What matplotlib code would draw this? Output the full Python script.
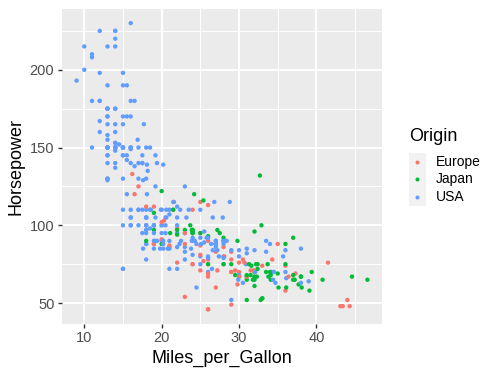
import matplotlib
matplotlib.use("Agg")
import matplotlib.pyplot as plt
from matplotlib.lines import Line2D
from matplotlib.patches import Rectangle
from matplotlib.ticker import MultipleLocator

plt.rcParams['font.family'] = ['Liberation Sans', 'DejaVu Sans']

# cars data, one block per model year (rows with a missing value dropped)
mpg = [
    # 70
    18, 15, 18, 16, 17, 15, 14, 14, 14, 15, 15, 14, 15, 14, 24, 22, 18, 21, 27, 26, 25, 24, 25, 26, 21, 10, 10, 11, 9,
    # 71
    27, 28, 25, 19, 16, 17, 19, 18, 14, 14, 14, 14, 12, 13, 13, 18, 22, 19, 18, 23, 28, 30, 30, 31, 35, 27, 26,
    # 72
    24, 25, 23, 20, 21, 13, 14, 15, 14, 17, 11, 13, 12, 13, 19, 15, 13, 13, 14, 18, 22, 21, 26, 22, 28, 23, 28, 27,
    # 73
    13, 14, 13, 14, 15, 12, 13, 13, 14, 13, 12, 13, 18, 16, 18, 18, 23, 26, 11, 12, 13, 12, 18, 20, 21, 22, 18, 19,
    21, 26, 15, 16, 29, 24, 20, 19, 15, 24, 20, 11,
    # 74
    20, 19, 15, 31, 26, 32, 25, 16, 16, 18, 16, 13, 14, 14, 14, 29, 26, 26, 31, 32, 28, 24, 26, 24, 26, 31,
    # 75
    19, 18, 15, 15, 16, 15, 16, 14, 17, 16, 15, 18, 21, 20, 13, 29, 23, 20, 23, 24, 25, 24, 18, 29, 19, 23, 23, 22,
    25, 33,
    # 76
    28, 25, 25, 26, 27, 17.5, 16, 15.5, 14.5, 22, 22, 24, 22.5, 29, 24.5, 29, 33, 20, 18, 18.5, 17.5, 29.5, 32, 28,
    26.5, 20, 13, 19, 19, 16.5, 16.5, 13, 13, 13,
    # 77
    31.5, 30, 36, 25.5, 33.5, 17.5, 17, 15.5, 15, 17.5, 20.5, 19, 18.5, 16, 15.5, 15.5, 16, 29, 24.5, 26, 25.5, 30.5,
    33.5, 30, 30.5, 22, 21.5, 21.5,
    # 78
    43.1, 36.1, 32.8, 39.4, 36.1, 19.9, 19.4, 20.2, 19.2, 20.5, 20.2, 25.1, 20.5, 19.4, 20.6, 20.8, 18.6, 18.1, 19.2,
    17.7, 18.1, 17.5, 30, 27.5, 27.2, 30.9, 21.1, 23.2, 23.8, 23.9, 20.3, 17, 21.6, 16.2, 31.5, 29.5, 21.5, 19.8,
    22.3, 20.2, 20.6,
    # 79
    17, 17.6, 16.5, 18.2, 16.9, 15.5, 19.2, 18.5, 31.9, 34.1, 35.7, 27.4, 25.4, 23, 27.2, 23.9, 34.2, 34.5, 31.8,
    37.3, 28.4, 28.8, 26.8, 33.5,
    # 80
    41.5, 38.1, 32.1, 37.2, 28, 26.4, 24.3, 19.1, 34.3, 29.8, 31.3, 37, 32.2, 46.6, 27.9, 40.8, 44.3, 43.4, 36.4, 30,
    44.6, 33.8, 29.8, 32.7, 23.7, 35, 32.4,
    # 81
    27.2, 26.6, 25.8, 23.5, 30, 39.1, 39, 35.1, 32.3, 37, 37.7, 34.1, 34.7, 34.4, 29.9, 33, 33.7, 32.4, 32.9, 31.6,
    28.1, 30.7, 25.4, 24.2, 22.4, 26.6, 20.2, 17.6,
    # 82
    28, 27, 34, 31, 29, 27, 24, 36, 37, 31, 38, 36, 36, 36, 34, 38, 32, 38, 25, 38, 26, 22, 32, 36, 27, 27, 44, 32,
    28, 31,
]

horsepower = [
    # 70
    130, 165, 150, 150, 140, 198, 220, 215, 225, 190, 170, 160, 150, 225, 95, 95, 97, 85, 88, 46, 87, 90, 95, 113, 90,
    215, 200, 210, 193,
    # 71
    88, 90, 95, 100, 105, 100, 88, 100, 165, 175, 153, 150, 180, 170, 175, 110, 72, 100, 88, 86, 90, 70, 76, 65, 69,
    60, 70,
    # 72
    95, 80, 54, 90, 86, 165, 175, 150, 153, 150, 208, 155, 160, 190, 97, 150, 130, 140, 150, 112, 76, 87, 69, 86, 92,
    97, 80, 88,
    # 73
    175, 150, 145, 137, 150, 198, 150, 158, 150, 215, 225, 175, 105, 100, 100, 88, 95, 46, 150, 167, 170, 180, 100,
    88, 72, 94, 90, 85, 107, 90, 145, 230, 49, 75, 91, 112, 150, 110, 122, 180,
    # 74
    95, 100, 100, 67, 80, 65, 75, 100, 110, 105, 140, 150, 150, 140, 150, 83, 67, 78, 52, 61, 75, 75, 75, 97, 93, 67,
    # 75
    95, 105, 72, 72, 170, 145, 150, 148, 110, 105, 110, 95, 110, 110, 129, 75, 83, 100, 78, 96, 71, 97, 97, 70, 90,
    95, 88, 98, 115, 53,
    # 76
    86, 81, 92, 79, 83, 140, 150, 120, 152, 100, 105, 81, 90, 52, 60, 70, 53, 100, 78, 110, 95, 71, 70, 75, 72, 102,
    150, 88, 108, 120, 180, 145, 130, 150,
    # 77
    68, 80, 58, 96, 70, 145, 110, 145, 130, 110, 105, 100, 98, 180, 170, 190, 149, 78, 88, 75, 89, 63, 83, 67, 78,
    97, 110, 110,
    # 78
    48, 66, 52, 70, 60, 110, 140, 139, 105, 95, 85, 88, 100, 90, 105, 85, 110, 120, 145, 165, 139, 140, 68, 95, 97,
    75, 95, 105, 85, 97, 103, 125, 115, 133, 71, 68, 115, 85, 88, 90, 110,
    # 79
    130, 129, 138, 135, 155, 142, 125, 150, 71, 65, 80, 80, 77, 125, 71, 90, 70, 70, 65, 69, 90, 115, 115, 90,
    # 80
    76, 60, 70, 65, 90, 88, 90, 90, 78, 90, 75, 92, 75, 65, 105, 65, 48, 48, 67, 67, 67, 67, 62, 132, 100, 88, 72,
    # 81
    84, 84, 92, 110, 84, 58, 64, 60, 67, 65, 62, 68, 63, 65, 65, 74, 75, 75, 100, 74, 80, 76, 116, 120, 110, 105,
    88, 85,
    # 82
    88, 88, 88, 85, 84, 90, 92, 74, 68, 68, 63, 70, 88, 75, 70, 67, 67, 67, 110, 85, 92, 112, 96, 84, 90, 86, 52,
    84, 79, 82,
]

# E = Europe, J = Japan, U = USA, same order as above
origin_codes = (
    "UUUUUUUUUUUUUUJUUUJEEEEEUUUUU"                      # 70
    + "JUJ" + "U" * 17 + "EEEJJEU"                       # 71
    + "JUE" + "U" * 11 + "J" + "UUUU" + "EEEE" + "UJJUJ"  # 72
    + "U" * 17 + "EUUUUUJUJJUUEUUEEEEUEJU"               # 73
    + "UUUJUJ" + "U" * 9 + "EEEJJUEEJJE"                 # 74
    + "U" * 15 + "JUUUJEJUEUEEEEJ"                       # 75
    + "EEUUE" + "U" * 10 + "EJUUUUEJJUEUEJEUUUU"         # 76
    + "JUEUJ" + "U" * 12 + "EUJUUUJEJEJ"                 # 77
    + "EUJJJ" + "U" * 18 + "JJUJUUJEEEEEJUUUUU"          # 78
    + "U" * 8 + "EJUUEUEUUUJEUUUU"                       # 79
    + "EJUJUUUUEJJJJJUJEEEEJJEJJEJ"                      # 80
    + "UUUUUJUJJJJJUUUEJJJJEEJJUUUU"                     # 81
    + "U" * 7 + "EJJUUJJJJJJUUUUJUUUEUUU"                # 82
)
code_names = {"E": "Europe", "J": "Japan", "U": "USA"}
origin = [code_names[c] for c in origin_codes]

categories = ["Europe", "Japan", "USA"]
palette = {"Europe": "#F8766D", "Japan": "#00BA38", "USA": "#619CFF"}

assert len(mpg) == len(horsepower) == len(origin)

W, H = 500, 375
fig = plt.figure(figsize=(5, 3.75), dpi=100)
ax = fig.add_axes([62 / W, 1 - 323.6 / H, (382 - 62) / W, (323.6 - 8.8) / H])
ax.set_facecolor("#EBEBEB")
for s in ax.spines.values():
    s.set_visible(False)

ax.scatter(mpg, horsepower, c=[palette[o] for o in origin], s=10, linewidths=0, zorder=3)

xmin, xmax = min(mpg), max(mpg)
ymin, ymax = min(horsepower), max(horsepower)
ax.set_xlim(xmin - 0.05 * (xmax - xmin), xmax + 0.05 * (xmax - xmin))
ax.set_ylim(ymin - 0.05 * (ymax - ymin), ymax + 0.05 * (ymax - ymin))

ax.xaxis.set_major_locator(MultipleLocator(10))
ax.xaxis.set_minor_locator(MultipleLocator(5))
ax.yaxis.set_major_locator(MultipleLocator(50))
ax.yaxis.set_minor_locator(MultipleLocator(25))
ax.grid(True, which="major", color="white", linewidth=1.4, zorder=1)
ax.grid(True, which="minor", color="white", linewidth=0.7, zorder=1)
ax.set_axisbelow(True)

ax.tick_params(which="major", length=3, width=1.0, color="#333333", labelcolor="#4D4D4D",
               labelsize=10.5, pad=2.5)
ax.tick_params(which="minor", length=0)

ax.set_xlabel("Miles_per_Gallon", fontsize=13, labelpad=3)
ax.set_ylabel("Horsepower", fontsize=13, labelpad=4)

# legend, drawn like ggplot's guide
fig.text(409 / W, 1 - 137 / H, "Origin", fontsize=13, va="center", ha="left")
key_top = 153
key_size = 17.5
for i, cat in enumerate(categories):
    y0 = key_top + i * key_size
    fig.add_artist(Rectangle((408.5 / W, 1 - (y0 + key_size) / H), key_size / W, key_size / H,
                             transform=fig.transFigure, facecolor="#F2F2F2", edgecolor="none"))
    yc = y0 + key_size / 2
    fig.add_artist(Line2D([(408.5 + key_size / 2) / W], [1 - yc / H], transform=fig.transFigure,
                          marker="o", markersize=2.9, markeredgewidth=0, color=palette[cat], linestyle="none"))
    fig.text(436 / W, 1 - yc / H, cat, fontsize=10, va="center", ha="left")

fig.savefig("out.png", dpi=100)
